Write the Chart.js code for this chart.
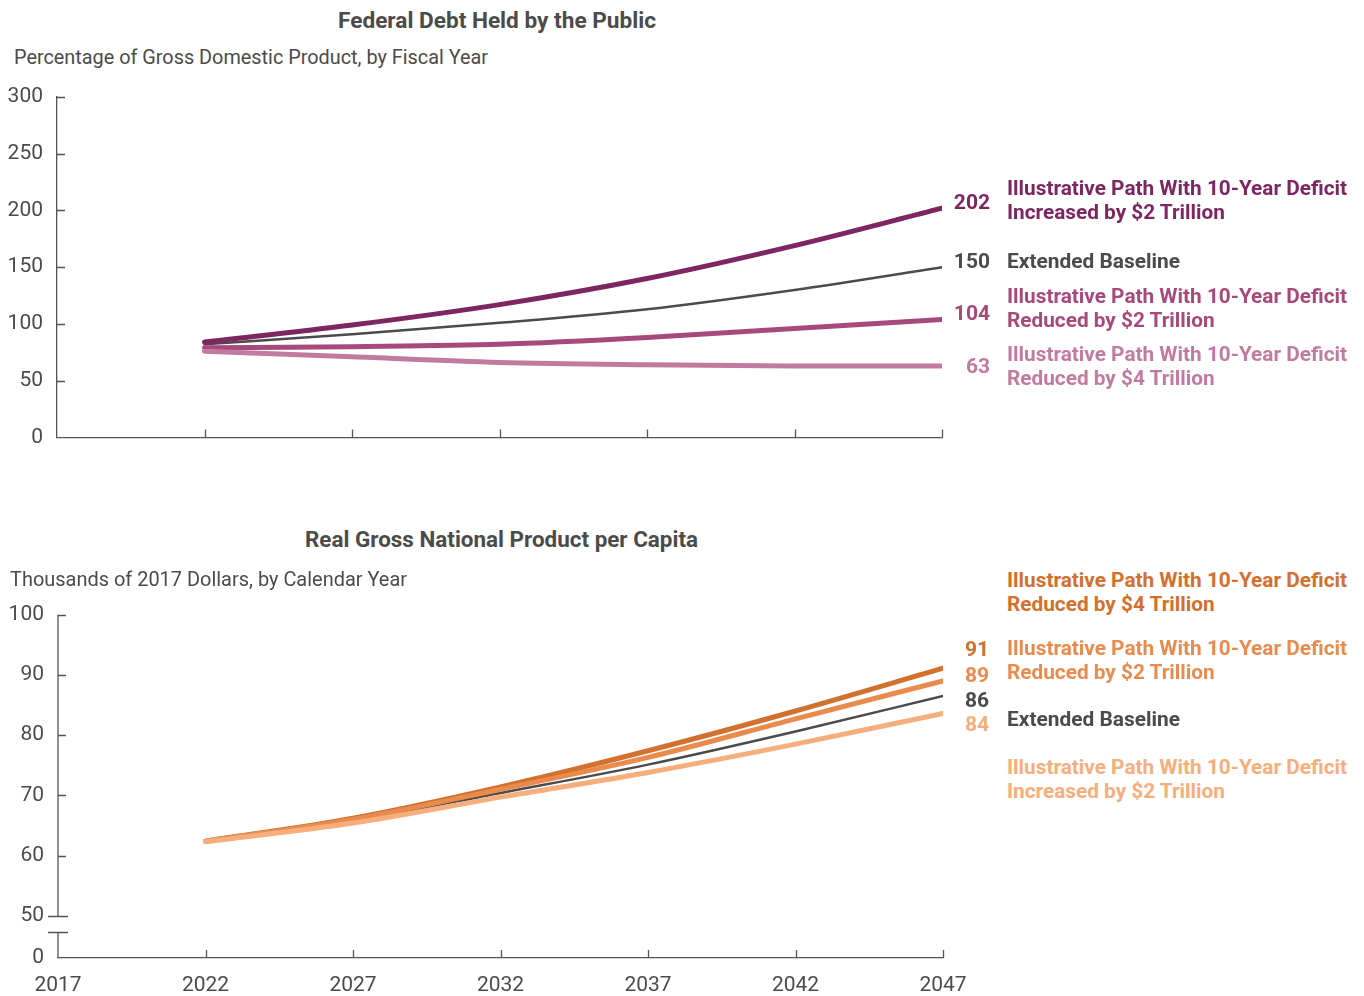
<!DOCTYPE html>
<html>
<head>
<meta charset="utf-8">
<script src="https://cdn.jsdelivr.net/npm/chart.js@4.4.0/dist/chart.umd.min.js"></script>
<style>
  body { margin: 0; background: #fff; font-family: Roboto, "Noto Sans", sans-serif; color: #4b4b4b; }
  #wrap { position: relative; width: 1364px; height: 996px; }
  canvas { position: absolute; left: 0; }
  .t { position: absolute; white-space: nowrap; line-height: 24px; transform-origin: 0 50%; }
  .title { font-weight: bold; font-size: 22px; }
  .sub { font-size: 21px; }
  .lab { font-weight: bold; font-size: 20px; }
  .num { font-weight: bold; font-size: 21px; text-align: right; width: 60px; }
</style>
</head>
<body>
<div id="wrap">
  <canvas id="debtChart" style="top:70px" width="1000" height="394"></canvas>
  <canvas id="gnpChart" style="top:588px" width="1000" height="408"></canvas>

  <div class="t title" data-w="318" style="left:338px;top:9px">Federal Debt Held by the Public</div>
  <div class="t sub" data-w="474" style="left:14px;top:45px">Percentage of Gross Domestic Product, by Fiscal Year</div>

  <div class="t num" style="left:930px;top:190px;color:#7d2662">202</div>
  <div class="t lab" data-w="340" style="left:1007px;top:176px;color:#7d2662">Illustrative Path With 10-Year Deficit<br>Increased by $2 Trillion</div>
  <div class="t num" style="left:930px;top:249px;color:#4b4b4b">150</div>
  <div class="t lab" data-w="173" style="left:1007px;top:249px;color:#4b4b4b">Extended Baseline</div>
  <div class="t num" style="left:930px;top:301px;color:#a8497c">104</div>
  <div class="t lab" data-w="340" style="left:1007px;top:284px;color:#a8497c">Illustrative Path With 10-Year Deficit<br>Reduced by $2 Trillion</div>
  <div class="t num" style="left:930px;top:354px;color:#c27ba0">63</div>
  <div class="t lab" data-w="340" style="left:1007px;top:342px;color:#c27ba0">Illustrative Path With 10-Year Deficit<br>Reduced by $4 Trillion</div>

  <div class="t title" data-w="393" style="left:305px;top:528px">Real Gross National Product per Capita</div>
  <div class="t sub" data-w="397" style="left:10px;top:567px">Thousands of 2017 Dollars, by Calendar Year</div>

  <div class="t lab" data-w="340" style="left:1007px;top:568px;color:#d2702d">Illustrative Path With 10-Year Deficit<br>Reduced by $4 Trillion</div>
  <div class="t num" style="left:929px;top:637px;color:#d2702d">91</div>
  <div class="t num" style="left:929px;top:663px;color:#e98b4c">89</div>
  <div class="t lab" data-w="340" style="left:1007px;top:636px;color:#e98b4c">Illustrative Path With 10-Year Deficit<br>Reduced by $2 Trillion</div>
  <div class="t num" style="left:929px;top:688px;color:#4b4b4b">86</div>
  <div class="t num" style="left:929px;top:712px;color:#f5ae7c">84</div>
  <div class="t lab" data-w="173" style="left:1007px;top:707px;color:#4b4b4b">Extended Baseline</div>
  <div class="t lab" data-w="340" style="left:1007px;top:755px;color:#f5ae7c">Illustrative Path With 10-Year Deficit<br>Increased by $2 Trillion</div>
</div>

<script>
// data
const years = [2022, 2027, 2032, 2037, 2042, 2047];
const xTicks = [2017, 2022, 2027, 2032, 2037, 2042, 2047];

const debtIncreased2T = [84, 99, 117, 140, 169, 202];
const debtBaseline = [82, 91, 101, 113, 130, 150];
const debtReduced2T = [79, 80, 82, 88, 96, 104];
const debtReduced4T = [76, 71, 66, 64, 63, 63];
const debtTicks = [0, 50, 100, 150, 200, 250, 300];

const gnpReduced4T = [62.4, 66.2, 71.4, 77.4, 84.0, 91.1];
const gnpReduced2T = [62.4, 66.0, 71.0, 76.3, 82.7, 89.0];
const gnpBaseline = [62.4, 65.8, 70.4, 75.1, 80.6, 86.5];
const gnpIncreased2T = [62.3, 65.4, 69.7, 73.8, 78.5, 83.6];
const gnpTicks = [50, 60, 70, 80, 90, 100];
const gnpAxisBottom = 43; // shown as "0" below the axis break

const fontFamily = 'Roboto, "Noto Sans", sans-serif';
const axisColor = '#555';
const textColor = '#4b4b4b';

// squeeze the html labels to the narrow width of the original lettering
document.querySelectorAll('[data-w]').forEach(el => {
    const w = el.getBoundingClientRect().width;
    el.style.transform = `scaleX(${el.dataset.w / w})`;
});

let toPoints = (vals) => years.map((yr, i) => ({x: yr, y: vals[i]}));

let series = (vals, color, width) => ({
    data: toPoints(vals),
    borderColor: color,
    borderWidth: width,
    pointRadius: 0,
    cubicInterpolationMode: 'monotone',
    borderCapStyle: 'round',
    fill: false
});

// ticks pointing into the plot, plus the broken y axis on the lower chart
const axisMarks = {
    id: 'axisMarks',
    afterDatasetsDraw(chart, args, opts) {
        const {ctx, scales: {x, y}} = chart;
        ctx.save();
        ctx.strokeStyle = axisColor;
        ctx.lineWidth = 1.3;
        ctx.beginPath();
        y.ticks.forEach(t => {
            if (t.value === y.min) return;
            const py = Math.round(y.getPixelForValue(t.value)) + 0.5;
            ctx.moveTo(x.left, py);
            ctx.lineTo(x.left + 8, py);
        });
        x.ticks.forEach(t => {
            if (t.value === x.min) return;
            const px = Math.round(x.getPixelForValue(t.value)) + 0.5;
            ctx.moveTo(px, y.bottom);
            ctx.lineTo(px, y.bottom - 8);
        });
        if (opts.breakAt) {
            const top = Math.round(y.getPixelForValue(opts.breakAt)) + 0.5;
            const low = top + 16;
            ctx.moveTo(x.left, y.top);
            ctx.lineTo(x.left, top);
            ctx.moveTo(x.left, low);
            ctx.lineTo(x.left, y.bottom);
            ctx.moveTo(x.left - 10, top);
            ctx.lineTo(x.left + 10, top);
            ctx.moveTo(x.left - 10, low);
            ctx.lineTo(x.left + 10, low);
        }
        ctx.stroke();
        ctx.restore();
    }
};

let tickFont = {family: fontFamily, size: 21};

let xScale = (showLabels, height) => ({
    type: 'linear',
    min: 2017,
    max: 2047,
    grid: {display: false, drawTicks: false},
    border: {display: true, color: axisColor, width: 1.3},
    afterBuildTicks: (s) => { s.ticks = xTicks.map(v => ({value: v})); },
    afterFit: (s) => { s.height = height; },
    ticks: {display: showLabels, color: textColor, font: tickFont, padding: 15, maxRotation: 0, callback: (v) => String(v)}
});

new Chart(document.getElementById('debtChart').getContext('2d'), {
    type: 'line',
    data: {
        datasets: [
            series(debtReduced4T, '#c27ba0', 5),
            series(debtReduced2T, '#a8497c', 5),
            series(debtIncreased2T, '#7d2662', 5),
            series(debtBaseline, '#4b4b4b', 2.5)
        ]
    },
    options: {
        responsive: false,
        animation: false,
        layout: {padding: {top: 27, right: 58, bottom: 0, left: 0}},
        plugins: {legend: {display: false}, tooltip: {enabled: false}, axisMarks: {}},
        scales: {
            x: xScale(false, 19),
            y: {
                min: 0,
                max: 300,
                grid: {display: false, drawTicks: false},
                border: {display: true, color: axisColor, width: 1.3},
                afterBuildTicks: (s) => { s.ticks = debtTicks.map(v => ({value: v})); },
                afterFit: (s) => { s.width = 57; },
                ticks: {color: textColor, font: tickFont, padding: 14}
            }
        }
    },
    plugins: [axisMarks]
});

new Chart(document.getElementById('gnpChart').getContext('2d'), {
    type: 'line',
    data: {
        datasets: [
            series(gnpIncreased2T, '#f5ae7c', 5),
            series(gnpReduced2T, '#e98b4c', 5),
            series(gnpReduced4T, '#d2702d', 5),
            series(gnpBaseline, '#4b4b4b', 2.5)
        ]
    },
    options: {
        responsive: false,
        animation: false,
        layout: {padding: {top: 19, right: 57, bottom: 0, left: 0}},
        plugins: {legend: {display: false}, tooltip: {enabled: false}, axisMarks: {breakAt: 50}},
        scales: {
            x: xScale(true, 38),
            y: {
                min: gnpAxisBottom,
                max: 100,
                grid: {display: false, drawTicks: false},
                border: {display: false},
                afterBuildTicks: (s) => { s.ticks = [gnpAxisBottom, ...gnpTicks].map(v => ({value: v})); },
                afterFit: (s) => { s.width = 58; },
                ticks: {color: textColor, font: tickFont, padding: 14,
                        callback: (v) => v === gnpAxisBottom ? '0' : String(v)}
            }
        }
    },
    plugins: [axisMarks]
});
</script>
</body>
</html>
